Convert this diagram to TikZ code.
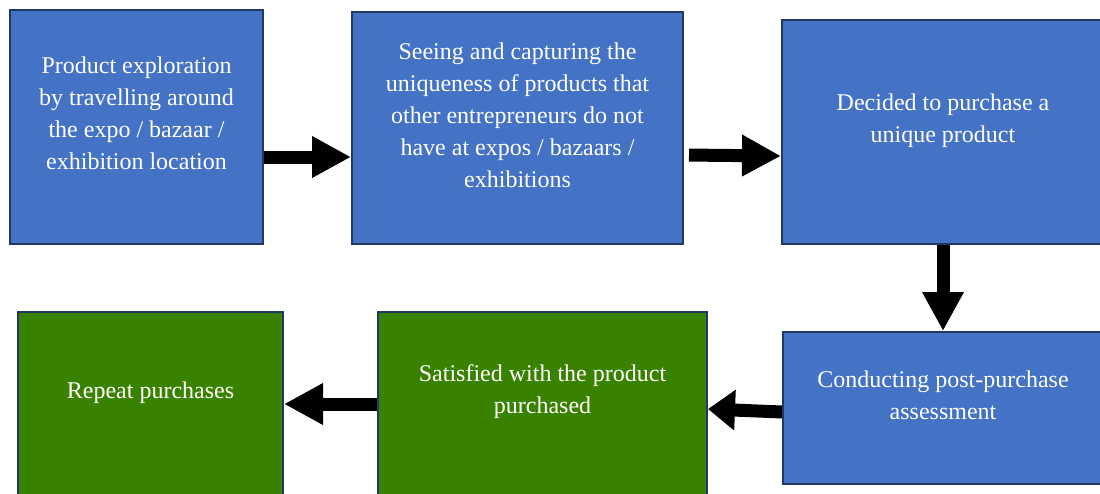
\documentclass[tikz,border=0pt]{standalone}
\usepackage{fontspec}
\setmainfont{Liberation Serif}
\usetikzlibrary{arrows.meta}
\definecolor{stage blue}{HTML}{4472C4}
\definecolor{stage green}{HTML}{388200}
\definecolor{stage edge}{HTML}{1F3864}
\def\stages{{(136.5,127)/b1/253/234/stage blue}, {(517.5,128)/b2/331/232/stage blue}, {(943,132)/b3/322/224/stage blue}, {(943,408)/b4/320/152/stage blue}, {(542.5,404)/b5/329/184/stage green}, {(150.5,404)/b6/265/184/stage green}}
\tikzset{
  stagebox/.style={draw=stage edge, line width=2pt, inner sep=0pt},
  stagetext/.style={text=white, align=center, inner sep=0pt, font=\fontsize{24}{32}\selectfont},
  blockarrow/.style={draw=black, line width=13pt, -{Triangle[width=39pt,length=#1]}},
  blockarrow/.default=39pt
  }

\begin{document}
\begin{tikzpicture}[x=1pt, y=-1pt]
  \useasboundingbox (0,0) rectangle (1100,493);
  \clip (0,0) rectangle (1100,493);

  % the stages
  \foreach \pos/\name/\w/\h/\col in \stages
    \node[stagebox, fill=\col, minimum width=\w pt, minimum height=\h pt] (\name) at \pos {};

  % their texts, a bit above the middle
  \foreach \name/\up/\txt in {b1/14/{Product exploration\\by travelling around\\the expo / bazaar /\\exhibition location},
      b2/13/{Seeing and capturing the\\uniqueness of products that\\other entrepreneurs do not\\have at expos / bazaars /\\exhibitions},
      b3/11/{Decided to purchase a\\unique product},
      b4/13/{Conducting post-purchase\\assessment},
      b5/12/{Satisfied with the product\\purchased},
      b6/11/{Repeat purchases}}
    \node[stagetext] (\name-text) at ([yshift=\up pt]\name.center) {\txt};

  % the arrows between them
  \draw[blockarrow] ([yshift=-30pt]b1.east) -- ([yshift=-29pt]b2.west);
  \draw[blockarrow, shorten <=5pt] ([yshift=-27pt]b2.east) -- ([yshift=-24pt]b3.west);
  \draw[blockarrow] (b3.south) -- (b4.north);
  \draw[blockarrow=27pt] ([yshift=-4pt]b4.west) -- ([yshift=-5pt]b5.east);
  \draw[blockarrow] (b5.west) -- (b6.east);
\end{tikzpicture}
\end{document}
